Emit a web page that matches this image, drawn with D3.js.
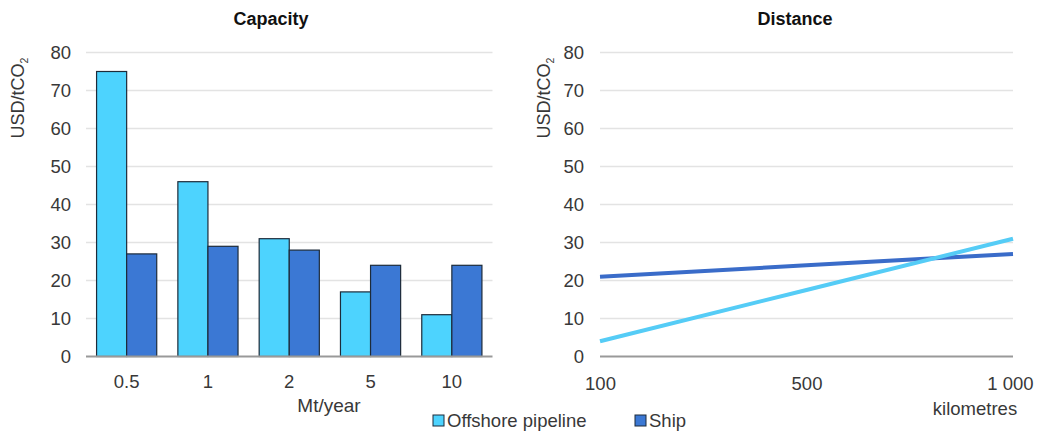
<!DOCTYPE html>
<html><head><meta charset="utf-8">
<script src="https://cdn.jsdelivr.net/npm/d3@7"></script>
<style>body{margin:0;background:#fff}svg{display:block;font-family:"Liberation Sans",Arial,sans-serif}</style>
</head><body>
<svg id="c" width="1043" height="432"></svg>
<script>
const capacityCats = ["0.5","1","2","5","10"];
const capPipeline = [75,46,31,17,11];
const capShip = [27,29,28,24,24];
const distCats = ["100","500","1 000"];
const distPipeline = [4,17.5,31];
const distShip = [21,24,27];
const yTicks = [0,10,20,30,40,50,60,70,80];
const seriesNames = ["Offshore pipeline","Ship"];

const cPipe = "#4dd3fe", cShip = "#3b78d4";
const lPipe = "#55ccf6", lShip = "#3a6cc9";
const svg = d3.select("#c");
const FS = 18.5;
const TXT = "#383838";

const y = d3.scaleLinear().domain([0,80]).range([356.5,52.5]);

function yAxisGrid(x0,x1,labelX,titleX){
  const g = svg.append("g");
  g.selectAll("line.grid").data(yTicks.filter(d=>d>0)).join("line")
    .attr("x1",x0).attr("x2",x1).attr("y1",d=>y(d)).attr("y2",d=>y(d))
    .attr("stroke","#e3e3e3").attr("stroke-width",1.3);
  const ax = svg.append("g").attr("transform",`translate(${labelX},0)`)
    .call(d3.axisLeft(y).tickValues(yTicks).tickSize(0).tickPadding(0));
  ax.select(".domain").remove();
  ax.selectAll("text").attr("font-size",FS).attr("fill",TXT).attr("font-family","Liberation Sans, Arial, sans-serif");
  const t = svg.append("text").attr("transform",`translate(${titleX},98) rotate(-90)`)
    .attr("text-anchor","middle").attr("font-size",18).attr("fill",TXT);
  t.append("tspan").text("USD/tCO");
  t.append("tspan").text("2").attr("font-size",10.5).attr("dy",4);
}

// Left chart
const lx0 = 86, lx1 = 492.5;
yAxisGrid(lx0,lx1,71,24);
const xb = d3.scaleBand().domain(capacityCats).range([lx0,lx1]).paddingInner(0.26).paddingOuter(0.13);
const xs = d3.scaleBand().domain([0,1]).range([0,xb.bandwidth()]);
const groups = svg.append("g").selectAll("g").data(capacityCats).join("g")
  .attr("transform",d=>`translate(${xb(d)},0)`);
groups.append("rect").attr("x",xs(0)).attr("width",xs.bandwidth())
  .attr("y",(d,i)=>y(capPipeline[i])).attr("height",(d,i)=>y(0)-y(capPipeline[i]))
  .attr("fill",cPipe).attr("stroke","#1d2b3a").attr("stroke-width",1.2);
groups.append("rect").attr("x",xs(1)).attr("width",xs.bandwidth())
  .attr("y",(d,i)=>y(capShip[i])).attr("height",(d,i)=>y(0)-y(capShip[i]))
  .attr("fill",cShip).attr("stroke","#1d2b3a").attr("stroke-width",1.2);
svg.append("line").attr("x1",lx0).attr("x2",lx1).attr("y1",y(0)).attr("y2",y(0)).attr("stroke","#999").attr("stroke-width",2);
const bx = svg.append("g").attr("transform",`translate(0,${y(0)})`).call(d3.axisBottom(xb).tickSize(0).tickPadding(18));
bx.select(".domain").remove();
bx.selectAll("text").attr("font-size",FS).attr("fill",TXT).attr("font-family","Liberation Sans, Arial, sans-serif");
svg.append("text").attr("x",329).attr("y",412).attr("text-anchor","middle").attr("font-size",19).attr("fill",TXT).text("Mt/year");
svg.append("text").attr("x",271).attr("y",25).attr("text-anchor","middle").attr("font-size",18).attr("font-weight","bold").attr("fill","#111").text("Capacity");

// Right chart
const rx0 = 600, rx1 = 1013;
yAxisGrid(rx0,rx1,584,550);
svg.append("line").attr("x1",rx0).attr("x2",rx1).attr("y1",y(0)).attr("y2",y(0)).attr("stroke","#999").attr("stroke-width",2);
const xp = d3.scalePoint().domain(distCats).range([rx0,rx1]);
const line = d3.line().x((d,i)=>xp(distCats[i])).y(d=>y(d));
svg.append("path").datum(distShip).attr("d",line).attr("fill","none").attr("stroke",lShip).attr("stroke-width",4);
svg.append("path").datum(distPipeline).attr("d",line).attr("fill","none").attr("stroke",lPipe).attr("stroke-width",4);
const px = svg.append("g").attr("transform",`translate(0,${y(0)})`).call(d3.axisBottom(xp).tickSize(0).tickPadding(20));
px.select(".domain").remove();
px.selectAll("text").attr("font-size",FS).attr("fill",TXT).attr("font-family","Liberation Sans, Arial, sans-serif");
px.selectAll("text").filter(d=>d==="1 000").attr("dx",-3);
svg.append("text").attr("x",975).attr("y",415).attr("text-anchor","middle").attr("font-size",18.5).attr("fill",TXT).text("kilometres");
svg.append("text").attr("x",795).attr("y",25).attr("text-anchor","middle").attr("font-size",18).attr("font-weight","bold").attr("fill","#111").text("Distance");

// Legend
const legX = [433,635];
const leg = svg.append("g").selectAll("g").data(seriesNames).join("g")
  .attr("transform",(d,i)=>`translate(${legX[i]},415)`);
leg.append("rect").attr("width",11).attr("height",11).attr("fill",(d,i)=>i?cShip:cPipe).attr("stroke","#1d2b3a").attr("stroke-width",1);
leg.append("text").attr("x",14).attr("y",12).attr("font-size",FS).attr("fill",TXT).text(d=>d);
</script>
</body></html>
